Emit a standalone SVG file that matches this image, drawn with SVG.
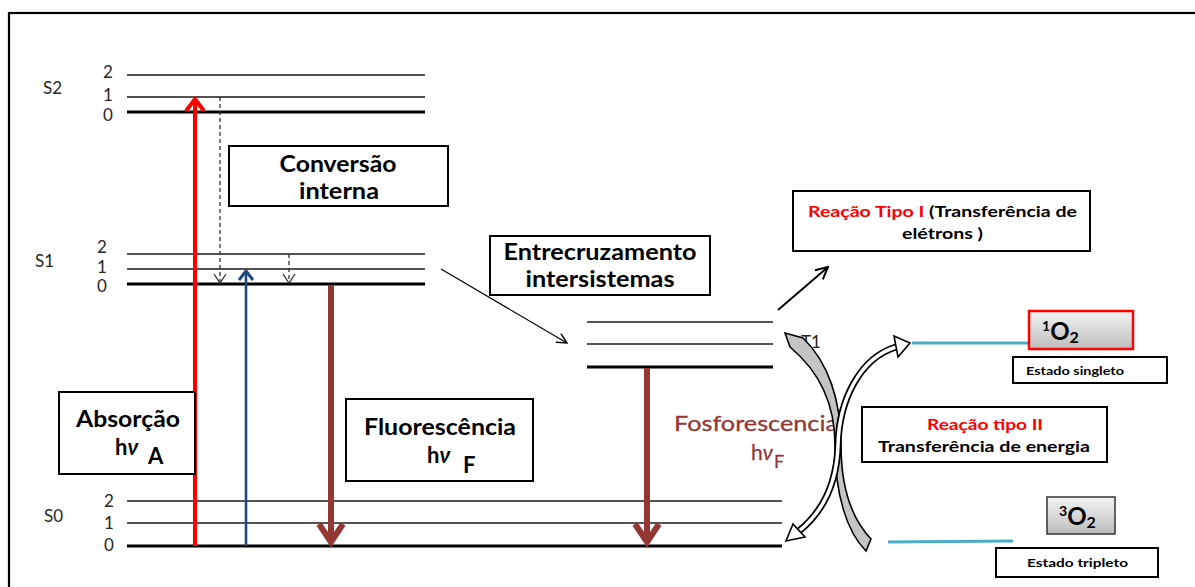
<svg xmlns="http://www.w3.org/2000/svg" width="1195" height="587" viewBox="0 0 1195 587">
<defs>
<style>
.lv{stroke:#1a1a1a;stroke-width:1.3}
.lv0{stroke:#000;stroke-width:3.2}
.num{font-family:Lato,"Liberation Sans",sans-serif;font-size:17px;fill:#262626}
.box{fill:#fff;stroke:#000;stroke-width:2}
.bt{font-family:Lato,"Liberation Sans",sans-serif;font-weight:bold;fill:#000}
.red{fill:#FF0000}
.br{font-family:Lato,"Liberation Sans",sans-serif;fill:#953735}
.dash{stroke:#333;stroke-width:1.3;stroke-dasharray:4,3;fill:none}
.chev{fill:none;stroke:#333;stroke-width:1.3}
</style>
<linearGradient id="gg" x1="0" y1="0" x2="0" y2="1">
<stop offset="0" stop-color="#f4f4f4"/>
<stop offset="1" stop-color="#bcbcbc"/>
</linearGradient>
<marker id="ah" viewBox="0 0 12 12" refX="11" refY="6" markerWidth="12" markerHeight="12" markerUnits="userSpaceOnUse" orient="auto">
<path d="M1,1 L11,6 L1,11" fill="none" stroke="#000" stroke-width="1.4"/>
</marker>
<marker id="ah2" viewBox="0 0 14 14" refX="13" refY="7" markerWidth="14" markerHeight="14" markerUnits="userSpaceOnUse" orient="auto">
<path d="M1,1 L13,7 L1,13" fill="none" stroke="#000" stroke-width="2"/>
</marker>
</defs>
<rect x="0" y="0" width="1195" height="587" fill="#fff"/>
<rect x="9" y="13" width="1200" height="600" fill="none" stroke="#000" stroke-width="2.2"/>

<g id="levels">
<line class="lv" x1="127" y1="75" x2="425" y2="75"/>
<line class="lv" x1="127" y1="97" x2="425" y2="97"/>
<line class="lv0" x1="127" y1="112" x2="425" y2="112"/>
<line class="lv" x1="127" y1="254" x2="425" y2="254"/>
<line class="lv" x1="127" y1="269" x2="425" y2="269"/>
<line class="lv0" x1="127" y1="284" x2="425" y2="284"/>
<line class="lv" x1="127" y1="501" x2="782" y2="501"/>
<line class="lv" x1="127" y1="523" x2="782" y2="523"/>
<line class="lv0" x1="127" y1="546" x2="782" y2="546"/>
<line class="lv" x1="587" y1="322" x2="773" y2="322"/>
<line class="lv" x1="587" y1="344" x2="773" y2="344"/>
<line class="lv0" x1="587" y1="367" x2="773" y2="367"/>
</g>

<g id="labels">
<text class="num" x="43" y="94" font-size="20">S2</text>
<text class="num" x="103" y="78" font-size="16">2</text>
<text class="num" x="103" y="101" font-size="16">1</text>
<text class="num" x="103" y="121" font-size="16">0</text>
<text class="num" x="35" y="267" font-size="20">S1</text>
<text class="num" x="97" y="253" font-size="14">2</text>
<text class="num" x="97" y="273" font-size="14">1</text>
<text class="num" x="97" y="292" font-size="14">0</text>
<text class="num" x="44" y="522" font-size="20">S0</text>
<text class="num" x="104" y="507">2</text>
<text class="num" x="104" y="529">1</text>
<text class="num" x="104" y="551">0</text>
<text class="num" x="801" y="348" font-size="20" fill="#595959">T1</text>
</g>

<g id="connectors">
<line x1="195" y1="546" x2="195" y2="99" stroke="#FF0000" stroke-width="4"/>
<path d="M186,111 L195,99 L204,111" fill="none" stroke="#FF0000" stroke-width="4"/>
<line class="dash" x1="220" y1="97" x2="220" y2="282"/>
<path class="chev" d="M214,274 L220,283 L226,274"/>
<line class="dash" x1="289" y1="254" x2="289" y2="282"/>
<path class="chev" d="M283,274 L289,283 L295,274"/>
<line x1="246" y1="546" x2="246" y2="271" stroke="#1F497D" stroke-width="2.6"/>
<path d="M239,280 L246,271 L253,280" fill="none" stroke="#1F497D" stroke-width="3"/>
<line x1="331" y1="285" x2="331" y2="542" stroke="#943634" stroke-width="6"/>
<path d="M319,524 L331,542 L343,524" fill="none" stroke="#943634" stroke-width="6"/>
<line x1="441" y1="269" x2="567" y2="343" stroke="#000" stroke-width="1.2" marker-end="url(#ah)"/>
<line x1="647" y1="368" x2="647" y2="542" stroke="#943634" stroke-width="6"/>
<path d="M635,524 L647,542 L659,524" fill="none" stroke="#943634" stroke-width="6"/>
<line x1="778" y1="310" x2="828" y2="267" stroke="#000" stroke-width="2" marker-end="url(#ah2)"/>
<line x1="912" y1="343" x2="1030" y2="343" stroke="#4BACC6" stroke-width="3"/>
<line x1="888" y1="542" x2="1013" y2="541" stroke="#4BACC6" stroke-width="3"/>
</g>

<g id="n-conversao">
<rect class="box" x="229" y="146" width="219" height="60"/>
<text class="bt" x="338" y="172" font-size="22" text-anchor="middle" textLength="117" lengthAdjust="spacingAndGlyphs">Conversão</text>
<text class="bt" x="339" y="199" font-size="22" text-anchor="middle" textLength="80" lengthAdjust="spacingAndGlyphs">interna</text>
</g>

<g id="n-absorcao">
<rect class="box" x="59" y="392" width="136" height="82"/>
<text class="bt" x="128" y="427" font-size="22" text-anchor="middle" textLength="104" lengthAdjust="spacingAndGlyphs">Absorção</text>
<text class="bt" x="115" y="455" font-size="22">h<tspan font-style="italic">ν</tspan></text>
<text class="bt" x="148" y="464" font-size="22">A</text>
</g>

<g id="n-fluorescencia">
<rect class="box" x="346" y="399" width="187" height="82"/>
<text class="bt" x="440" y="435" font-size="22" text-anchor="middle" textLength="152" lengthAdjust="spacingAndGlyphs">Fluorescência</text>
<text class="bt" x="427" y="463" font-size="22">h<tspan font-style="italic">ν</tspan></text>
<text class="bt" x="463" y="473" font-size="22">F</text>
</g>

<g id="n-entrecruzamento">
<rect class="box" x="490" y="236" width="220" height="59"/>
<text class="bt" x="600" y="260" font-size="22" text-anchor="middle" textLength="193" lengthAdjust="spacingAndGlyphs">Entrecruzamento</text>
<text class="bt" x="600" y="287" font-size="22" text-anchor="middle" textLength="149" lengthAdjust="spacingAndGlyphs">intersistemas</text>
</g>

<g id="n-fosforescencia">
<text class="br" x="674" y="431" font-size="21" textLength="164" lengthAdjust="spacingAndGlyphs" stroke="#953735" stroke-width="0.3">Fosforescencia</text>
<text class="br" x="751" y="460" font-size="21" stroke="#953735" stroke-width="0.3">h<tspan font-style="italic">ν</tspan></text>
<text class="br" x="774" y="468" font-size="18" stroke="#953735" stroke-width="0.3">F</text>
</g>

<g id="n-tipo1">
<rect class="box" x="793" y="191" width="297" height="60"/>
<text class="bt" x="808" y="217" font-size="16" textLength="269" lengthAdjust="spacingAndGlyphs"><tspan class="red">Reação Tipo I</tspan> (Transferência de</text>
<text class="bt" x="902" y="239" font-size="16" textLength="81" lengthAdjust="spacingAndGlyphs">elétrons )</text>
</g>

<g id="n-tipo2">
<rect class="box" x="862" y="407" width="245" height="55"/>
<text class="bt red" x="985" y="430" font-size="16" text-anchor="middle" textLength="116" lengthAdjust="spacingAndGlyphs">Reação tipo II</text>
<text class="bt" x="984" y="452" font-size="16" text-anchor="middle" textLength="212" lengthAdjust="spacingAndGlyphs">Transferência de energia</text>
</g>

<g id="n-1o2">
<rect x="1029" y="311" width="104" height="38" fill="url(#gg)" stroke="#FF0000" stroke-width="2.5"/>
<text class="bt" x="1042" y="340" font-size="24"><tspan font-size="14" dy="-9">1</tspan><tspan dy="9">O</tspan><tspan font-size="16" dy="3">2</tspan></text>
</g>
<g id="n-singleto">
<rect class="box" x="1013" y="357" width="154" height="26"/>
<text class="bt" x="1026" y="375" font-size="12" textLength="98" lengthAdjust="spacingAndGlyphs">Estado singleto</text>
</g>
<g id="n-3o2">
<rect x="1047" y="497" width="68" height="37" fill="url(#gg)" stroke="#333" stroke-width="1.5"/>
<text class="bt" x="1059" y="525" font-size="24"><tspan font-size="14" dy="-9">3</tspan><tspan dy="9">O</tspan><tspan font-size="16" dy="3">2</tspan></text>
</g>
<g id="n-tripleto">
<rect class="box" x="996" y="548" width="162" height="29"/>
<text class="bt" x="1027" y="567" font-size="12" textLength="101" lengthAdjust="spacingAndGlyphs">Estado tripleto</text>
</g>

<g id="curved-arrows">
<path d="M785,333 L803,338 C828,362 841,400 841,445 C841,490 853,520 871,539 L866,551 C847,532 835,495 835,445 C835,405 820,372 790,347 Z" fill="#c4c4c4" stroke="#000" stroke-width="1.6"/>
<path d="M799,531 C825,510 837,480 838,445 C839,400 860,358 896,347" fill="none" stroke="#000" stroke-width="7"/>
<path d="M799,531 C825,510 837,480 838,445 C839,400 860,358 896,347" fill="none" stroke="#fff" stroke-width="3.5"/>
<path d="M894,336 L910,343 L898,357 Z" fill="#fff" stroke="#000" stroke-width="1.6"/>
<path d="M793,524 L786,541 L805,537 Z" fill="#fff" stroke="#000" stroke-width="1.6"/>
</g>
</svg>
